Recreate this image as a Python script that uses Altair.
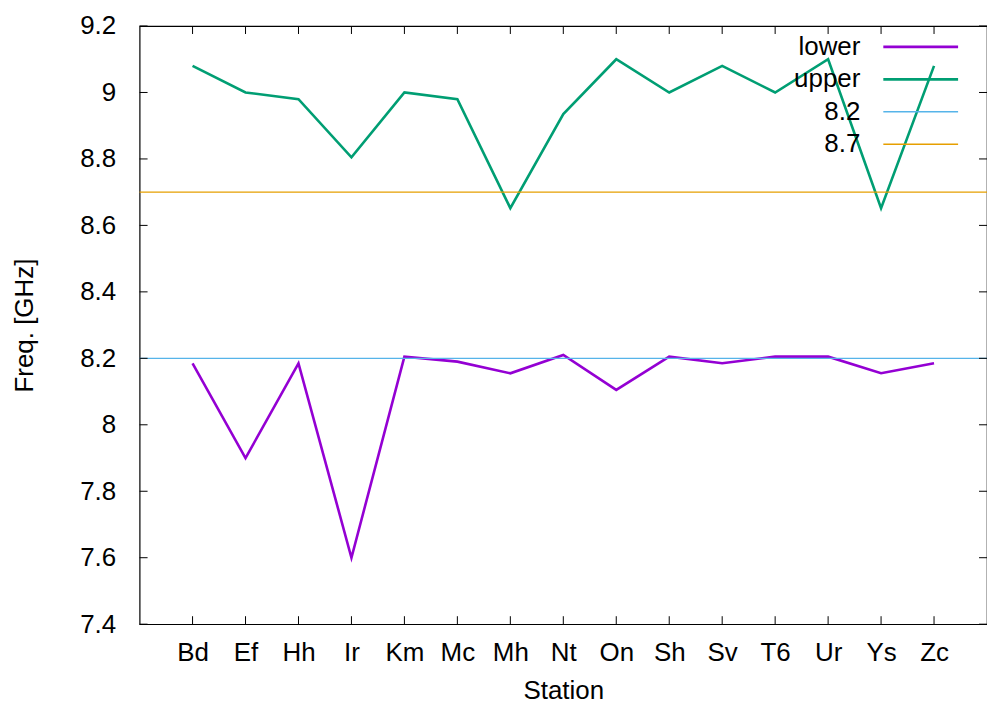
import altair as alt
import pandas as pd

# ---- data ----
stations = ["Bd", "Ef", "Hh", "Ir", "Km", "Mc", "Mh", "Nt", "On", "Sh", "Sv", "T6", "Ur", "Ys", "Zc"]
lower = [8.185, 7.90, 8.185, 7.60, 8.205, 8.19, 8.155, 8.21, 8.105, 8.205, 8.185, 8.205, 8.205, 8.155, 8.185]
upper = [9.08, 9.00, 8.98, 8.805, 9.00, 8.98, 8.652, 8.935, 9.10, 9.00, 9.08, 9.00, 9.10, 8.652, 9.08]
ref_names = ["8.2", "8.7"]
ref_values = [8.2, 8.7]
y_ticks = [7.4, 7.6, 7.8, 8.0, 8.2, 8.4, 8.6, 8.8, 9.0, 9.2]
series_names = ["lower", "upper", "8.2", "8.7"]
series_colors = ["#9400d3", "#009e73", "#56b4e9", "#e69f00"]
series_widths = [2.8, 2.8, 1.5, 1.5]

W, H = 850, 600
FONT = "Liberation Sans"
FS = 26

lines_df = pd.DataFrame({
    "station": stations * 2,
    "series": ["lower"] * len(stations) + ["upper"] * len(stations),
    "value": lower + upper,
})
ref_df = pd.DataFrame({"series": ref_names, "value": ref_values})
xt_df = pd.DataFrame({"station": stations})
yt_df = pd.DataFrame({"value": y_ticks})
leg_df = pd.DataFrame({
    "series": series_names,
    "idx": list(range(len(series_names))),
    "sw": series_widths,
})

x_enc = alt.X(
    "station:N",
    sort=stations,
    scale=alt.Scale(type="point", padding=1, domain=stations),
    axis=alt.Axis(
        domain=False, ticks=False, tickSize=0, grid=False,
        labelFont=FONT, labelFontSize=FS, labelColor="black", labelPadding=15,
        labelAngle=0,
        title="Station", titleFont=FONT, titleFontSize=FS, titleFontWeight="normal",
        titleColor="black", titleX=W / 2, titleY=75, titleBaseline="alphabetic",
        titleAlign="center",
    ),
)
y_enc = alt.Y(
    "value:Q",
    scale=alt.Scale(domain=[7.4, 9.2], nice=False, zero=False),
    axis=alt.Axis(
        values=y_ticks, format="~g",
        domain=False, ticks=False, tickSize=0, grid=False,
        labelFont=FONT, labelFontSize=FS, labelColor="black", labelPadding=24,
        title="Freq. [GHz]", titleFont=FONT, titleFontSize=FS, titleFontWeight="normal",
        titleColor="black", titleX=-107, titleY=H / 2, titleAngle=270,
        titleBaseline="alphabetic", titleAlign="center",
    ),
)
color_enc = alt.Color(
    "series:N",
    scale=alt.Scale(domain=series_names, range=series_colors),
    legend=None,
)

lines = alt.Chart(lines_df).mark_line(strokeWidth=2.6).encode(
    x=x_enc, y=y_enc, color=color_enc, detail="series:N"
)
refs = alt.Chart(ref_df).mark_rule(strokeWidth=1.4).encode(
    y=y_enc, color=color_enc
)

tick_len = 8
bottom_ticks = alt.Chart(xt_df).mark_rule(color="black", strokeWidth=1).encode(
    x=x_enc, y=alt.value(H), y2=alt.value(H - tick_len)
)
top_ticks = alt.Chart(xt_df).mark_rule(color="black", strokeWidth=1).encode(
    x=x_enc, y=alt.value(0), y2=alt.value(tick_len)
)
left_ticks = alt.Chart(yt_df).mark_rule(color="black", strokeWidth=1).encode(
    y=y_enc, x=alt.value(0), x2=alt.value(tick_len)
)
right_ticks = alt.Chart(yt_df).mark_rule(color="black", strokeWidth=1).encode(
    y=y_enc, x=alt.value(W), x2=alt.value(W - tick_len)
)

# gnuplot-style key: label on the left, line sample on the right
leg_base = alt.Chart(leg_df).transform_calculate(py="21 + 32.5 * datum.idx")
leg_y = alt.Y("py:Q", scale=None, axis=None)
leg_lines = leg_base.mark_rule().encode(
    x=alt.value(746), x2=alt.value(821), y=leg_y,
    color=color_enc, strokeWidth=alt.StrokeWidth("sw:Q", scale=None, legend=None),
)
leg_text = leg_base.mark_text(
    align="right", baseline="middle", font=FONT, fontSize=FS, color="black"
).encode(x=alt.value(723), y=leg_y, text="series:N")

chart = alt.layer(
    lines, refs, bottom_ticks, top_ticks, left_ticks, right_ticks, leg_lines, leg_text
).properties(
    width=W, height=H,
    padding={"left": 132, "top": 17, "right": 0, "bottom": 80},
    autosize=alt.AutoSizeParams(type="none"),
    background="white",
).configure_view(
    stroke="black", strokeWidth=1.2
)

chart.save("out.html", embed_options={"renderer": "svg", "actions": False})
